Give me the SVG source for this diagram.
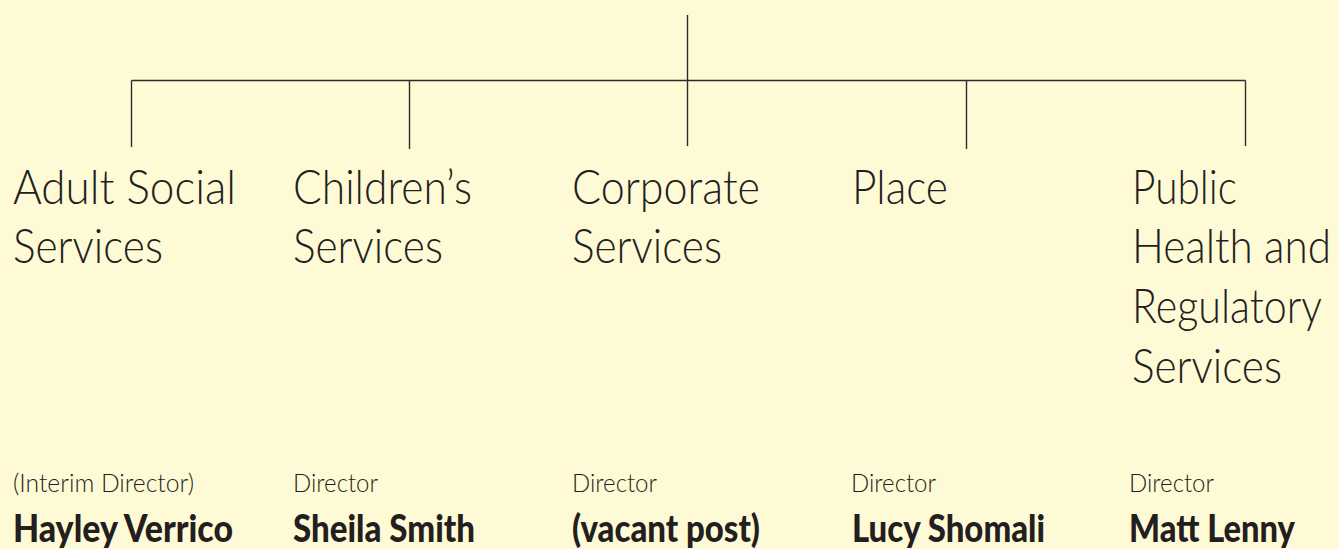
<svg xmlns="http://www.w3.org/2000/svg" width="1339" height="549" viewBox="0 0 1339 549">
  <style>
    .bg { fill: #FFFAD6; }
    .conn { stroke: #2b2b2b; stroke-width: 1.4; fill: none; }
    text { fill: #231F20; }
    .dept { font-family: Lato, "Liberation Sans", sans-serif; font-weight: 300; font-size: 47px; }
    .role { font-family: Lato, "Liberation Sans", sans-serif; font-weight: 300; font-size: 24.5px; }
    .name { font-family: Lato, "Liberation Sans", sans-serif; font-weight: 900; font-size: 37px; }
  </style>
  <rect class="bg" x="0" y="0" width="1339" height="549"/>

  <!-- reporting lines -->
  <g id="connectors">
    <path class="conn" d="M687.5 15 V146"/>
    <path class="conn" d="M131.5 80.5 H1245.5"/>
    <path class="conn" d="M131.5 80.5 V147"/>
    <path class="conn" d="M409.5 80.5 V149"/>
    <path class="conn" d="M966.5 80.5 V149"/>
    <path class="conn" d="M1245.5 80.5 V146"/>
  </g>

  <g id="adult-social-services">
    <text class="dept" x="13" y="204" textLength="223" lengthAdjust="spacingAndGlyphs">Adult Social</text>
    <text class="dept" x="13" y="263" textLength="150" lengthAdjust="spacingAndGlyphs">Services</text>
    <text class="role" x="13" y="492" textLength="181" lengthAdjust="spacingAndGlyphs">(Interim Director)</text>
    <text class="name" x="13" y="542" textLength="220" lengthAdjust="spacingAndGlyphs">Hayley Verrico</text>
  </g>

  <g id="childrens-services">
    <text class="dept" x="293" y="204" textLength="179" lengthAdjust="spacingAndGlyphs">Children’s</text>
    <text class="dept" x="293" y="263" textLength="150" lengthAdjust="spacingAndGlyphs">Services</text>
    <text class="role" x="293" y="492" textLength="85" lengthAdjust="spacingAndGlyphs">Director</text>
    <text class="name" x="293" y="542" textLength="182" lengthAdjust="spacingAndGlyphs">Sheila Smith</text>
  </g>

  <g id="corporate-services">
    <text class="dept" x="572" y="204" textLength="188" lengthAdjust="spacingAndGlyphs">Corporate</text>
    <text class="dept" x="572" y="263" textLength="150" lengthAdjust="spacingAndGlyphs">Services</text>
    <text class="role" x="572" y="492" textLength="85" lengthAdjust="spacingAndGlyphs">Director</text>
    <text class="name" x="572" y="542" textLength="188" lengthAdjust="spacingAndGlyphs">(vacant post)</text>
  </g>

  <g id="place">
    <text class="dept" x="852" y="204" textLength="96" lengthAdjust="spacingAndGlyphs">Place</text>
    <text class="role" x="851" y="492" textLength="85" lengthAdjust="spacingAndGlyphs">Director</text>
    <text class="name" x="852" y="542" textLength="193" lengthAdjust="spacingAndGlyphs">Lucy Shomali</text>
  </g>

  <g id="public-health-regulatory">
    <text class="dept" x="1132" y="204" textLength="105" lengthAdjust="spacingAndGlyphs">Public</text>
    <text class="dept" x="1132" y="263" textLength="199" lengthAdjust="spacingAndGlyphs">Health and</text>
    <text class="dept" x="1132" y="323" textLength="190" lengthAdjust="spacingAndGlyphs">Regulatory</text>
    <text class="dept" x="1132" y="383" textLength="150" lengthAdjust="spacingAndGlyphs">Services</text>
    <text class="role" x="1129" y="492" textLength="85" lengthAdjust="spacingAndGlyphs">Director</text>
    <text class="name" x="1129" y="542" textLength="166" lengthAdjust="spacingAndGlyphs">Matt Lenny</text>
  </g>
</svg>
